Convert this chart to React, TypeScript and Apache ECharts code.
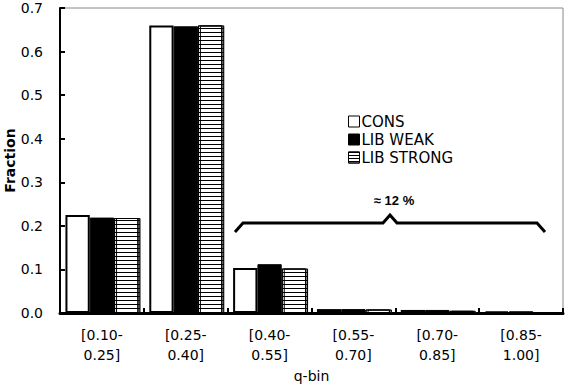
import React, { useEffect, useRef } from "react";
import * as echarts from "echarts";

const categories = ["[0.10-\n0.25]", "[0.25-\n0.40]", "[0.40-\n0.55]", "[0.55-\n0.70]", "[0.70-\n0.85]", "[0.85-\n1.00]"];
const consValues = [0.225, 0.66, 0.103, 0.009, 0.007, 0.004];
const libWeakValues = [0.219, 0.658, 0.112, 0.009, 0.007, 0.004];
const libStrongValues = [0.218, 0.66, 0.102, 0.008, 0.005, 0.002];
const seriesNames = ["CONS", "LIB WEAK", "LIB STRONG"];
const yTicks = { min: 0, max: 0.7, interval: 0.1 };
const annotationText = "≈ 12 %";

const FONT = "DejaVu Sans";

export default function App() {
  const ref = useRef<HTMLDivElement>(null);
  useEffect(() => {
    if (!ref.current) return;
    const chart = echarts.init(ref.current, null, { renderer: "svg" });
    const stripeDecal = {
      symbol: "rect",
      symbolSize: 1,
      dashArrayX: [1, 0],
      dashArrayY: [1, 3],
      rotation: 0,
      color: "#000",
    };
    chart.setOption({
      animation: false,
      backgroundColor: "#fff",
      textStyle: { fontFamily: FONT },
      grid: {
        left: 60,
        right: 3,
        top: 8,
        bottom: 74,
        show: true,
        borderColor: "#888",
        borderWidth: 1,
        containLabel: false,
        outerBoundsMode: "none",
      },
      legend: {
        orient: "vertical",
        left: 343,
        top: 109,
        itemWidth: 11,
        itemHeight: 11,
        itemGap: 3,
        icon: "rect",
        textStyle: { fontFamily: FONT, fontSize: 15, color: "#000", padding: [0, 0, 0, -3] },
        data: [
          { name: seriesNames[0], itemStyle: { color: "#fff", borderColor: "#000", borderWidth: 1 } },
          { name: seriesNames[1], itemStyle: { color: "#000", borderColor: "#000", borderWidth: 1 } },
          { name: seriesNames[2], itemStyle: { color: "#fff", borderColor: "#000", borderWidth: 1, decal: { ...stripeDecal, dashArrayY: [1, 2] } } },
        ],
      },
      xAxis: {
        type: "category",
        data: categories,
        name: "q-bin",
        nameLocation: "middle",
        nameGap: 56,
        nameMoveOverlap: false,
        nameTextStyle: { fontFamily: FONT, fontSize: 14, color: "#000" },
        axisLine: { show: true, lineStyle: { color: "#000", width: 3 } },
        axisTick: { show: true, inside: true, length: 5, lineStyle: { color: "#000", width: 2 } },
        axisLabel: { fontFamily: FONT, fontSize: 14, color: "#000", lineHeight: 20, margin: 12, interval: 0 },
        splitLine: { show: false },
      },
      yAxis: {
        type: "value",
        min: yTicks.min,
        max: yTicks.max,
        interval: yTicks.interval,
        name: "Fraction",
        nameLocation: "middle",
        nameGap: 43,
        nameMoveOverlap: false,
        nameTextStyle: { fontFamily: FONT, fontSize: 14, fontWeight: "bold", color: "#000" },
        axisLine: { show: true, lineStyle: { color: "#000", width: 2 } },
        axisTick: { show: true, inside: true, length: 5, lineStyle: { color: "#000", width: 2 } },
        axisLabel: { fontFamily: FONT, fontSize: 14, color: "#000", margin: 17, formatter: (v: number) => v.toFixed(1) },
        splitLine: { show: false },
      },
      series: [
        {
          name: seriesNames[0],
          type: "bar",
          data: consValues,
          barGap: "0%",
          barCategoryGap: "13%",
          itemStyle: { color: "#fff", borderColor: "#000", borderWidth: 2 },
        },
        {
          name: seriesNames[1],
          type: "bar",
          data: libWeakValues,
          barGap: "0%",
          barCategoryGap: "13%",
          itemStyle: { color: "#000", borderColor: "#000", borderWidth: 1 },
        },
        {
          name: seriesNames[2],
          type: "bar",
          data: libStrongValues,
          barGap: "0%",
          barCategoryGap: "13%",
          itemStyle: {
            color: "#fff",
            borderColor: "#000",
            borderWidth: 1,
            decal: stripeDecal,
            shadowColor: "#888",
            shadowOffsetX: 2,
            shadowBlur: 0,
          },
        },
      ],
      graphic: [
        {
          type: "polyline",
          shape: {
            points: [
              [235, 232],
              [243, 223],
              [383, 223],
              [390, 215],
              [397, 223],
              [537, 223],
              [545, 232],
            ],
          },
          style: { stroke: "#000", lineWidth: 3, fill: "none" },
        },
        {
          type: "text",
          x: 394,
          y: 200,
          style: {
            text: annotationText,
            fontFamily: "Liberation Sans",
            fontSize: 13,
            fontWeight: "bold",
            fill: "#000",
            align: "center",
            verticalAlign: "middle",
          },
        },
      ],
    });
    return () => chart.dispose();
  }, []);
  return <div ref={ref} style={{ position: "fixed", left: 0, top: 0, width: 566, height: 387 }} />;
}
